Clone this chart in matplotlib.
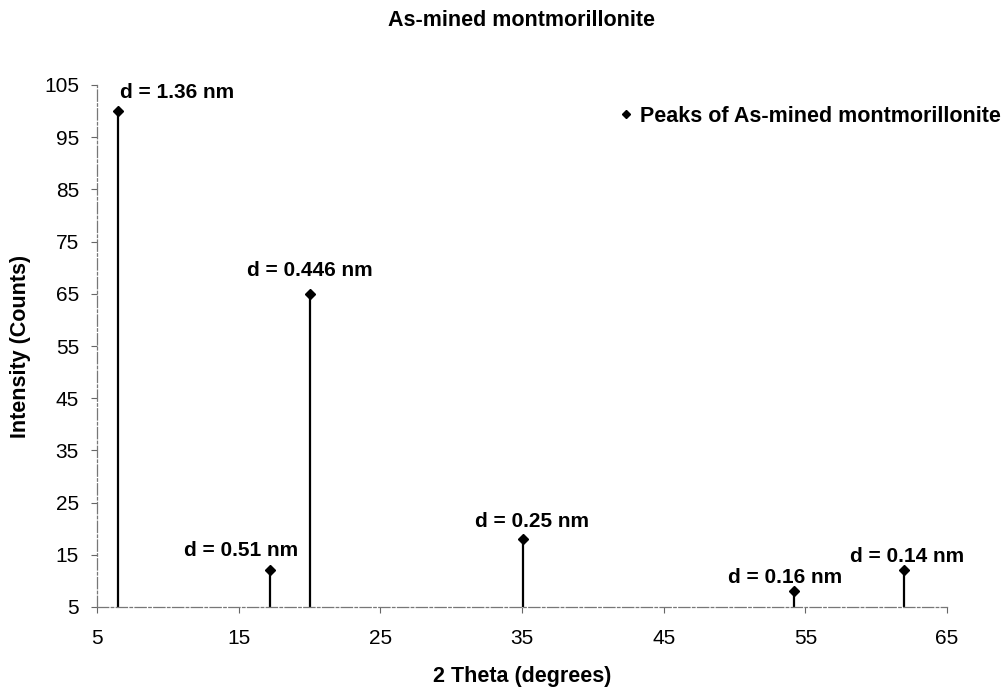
import matplotlib.pyplot as plt

plt.rcParams['font.family'] = ['Liberation Sans', 'DejaVu Sans']

# peak positions (2 theta) and intensities
two_theta = [6.5, 17.2, 20.0, 35.1, 54.2, 62.0]
intensity = [100, 12, 65, 18, 8, 12]

# d-spacing labels and where they sit
d_labels = ['d = 1.36 nm', 'd = 0.51 nm', 'd = 0.446 nm',
            'd = 0.25 nm', 'd = 0.16 nm', 'd = 0.14 nm']
label_x = [6.6, 15.2, 20.0, 35.7, 53.6, 62.2]
label_y = [103.5, 15.9, 69.4, 21.3, 10.6, 14.6]
label_ha = ['left', 'center', 'center', 'center', 'center', 'center']

fig = plt.figure(figsize=(10.08, 6.88), dpi=100)
# axes box: x 97..947 px, y 85..607 px
ax = fig.add_axes([97 / 1008, 1 - 607 / 688, 850 / 1008, 522 / 688])

# drop lines from the axis up to each peak
ax.vlines(two_theta, 5, intensity, colors='black', linewidth=1.6)
ax.plot(two_theta, intensity, 'D', color='black', markersize=5.5,
        linestyle='none', label='Peaks of As-mined montmorillonite')

for lx, ly, txt, ha in zip(label_x, label_y, d_labels, label_ha):
    ax.text(lx, ly, txt, ha=ha, va='center', fontsize=15, fontweight='bold')

ax.set_xlim(5, 65)
ax.set_ylim(5, 105)
ax.set_xticks(range(5, 66, 10))
ax.set_yticks(range(5, 106, 10))
ax.tick_params(labelsize=15, length=4, width=0.8, color='#666666')
ax.tick_params(axis='y', pad=9)
ax.tick_params(axis='x', pad=12)

for s in ['top', 'right']:
    ax.spines[s].set_visible(False)
for s in ['left', 'bottom']:
    ax.spines[s].set_color('#777777')
    ax.spines[s].set_linewidth(0.9)
    ax.spines[s].set_linestyle((0, (9, 2, 2, 2)))

ax.set_xlabel('2 Theta (degrees)', fontsize=15.5, fontweight='bold')
ax.set_ylabel('Intensity (Counts)', fontsize=15.5, fontweight='bold')
ax.xaxis.set_label_coords(0.5, -(666 - 607) / 522)
ax.yaxis.set_label_coords((31 - 97) / 850, 0.5)

fig.text(521 / 1008, 1 - 21 / 688, 'As-mined montmorillonite', ha='center',
         va='center', fontsize=15.5, fontweight='bold')

ax.legend(loc='center left', bbox_to_anchor=(620 / 1008, 1 - 116 / 688),
          bbox_transform=fig.transFigure, frameon=False,
          prop={'weight': 'bold', 'size': 15.5}, handlelength=0.6,
          handletextpad=0.35, borderpad=0, borderaxespad=0, markerscale=0.8)

fig.savefig('out.png', dpi=100)
